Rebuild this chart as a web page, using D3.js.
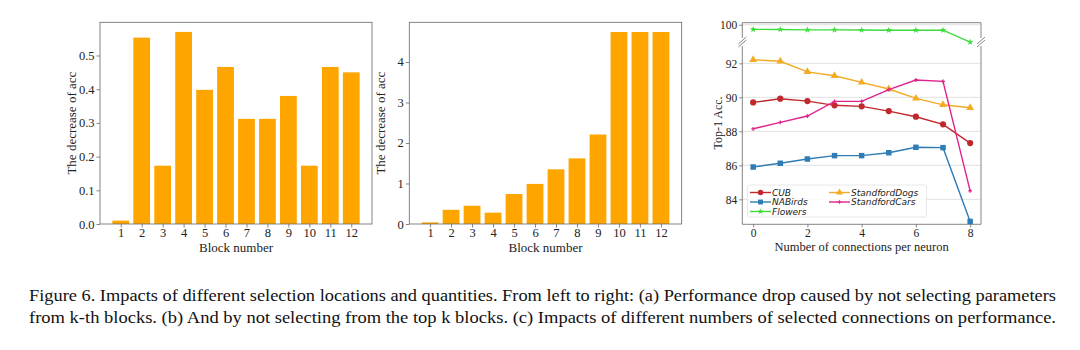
<!DOCTYPE html>
<html><head><meta charset="utf-8">
<script src="https://cdn.jsdelivr.net/npm/d3@7"></script>
<style>
html,body{margin:0;padding:0;background:#fff;}
svg{display:block;}
</style></head>
<body>
<svg id="chart" width="1080" height="350"></svg>
<script>
// ---------- DATA ----------
const blocks = [1,2,3,4,5,6,7,8,9,10,11,12];
const dropKth = [0.01,0.553,0.173,0.57,0.398,0.466,0.312,0.312,0.38,0.173,0.466,0.45];
const dropTopK = [0.04,0.35,0.45,0.28,0.74,0.99,1.35,1.62,2.21,4.74,4.74,4.74];
const ticksA = [0.0,0.1,0.2,0.3,0.4,0.5];
const ticksB = [0,1,2,3,4];

const connections = [0,1,2,3,4,5,6,7,8];
const cub      = [89.70,89.92,89.78,89.53,89.47,89.19,88.86,88.41,87.31];
const nabirds  = [85.90,86.12,86.37,86.57,86.57,86.74,87.06,87.04,82.70];
const flowers  = [99.73,99.72,99.70,99.70,99.69,99.68,99.68,99.68,98.98];
const dogs     = [92.21,92.12,91.50,91.27,90.88,90.49,89.94,89.56,89.39];
const cars     = [88.15,88.53,88.90,89.76,89.76,90.45,91.02,90.94,84.50];
const ticksCx = [0,2,4,6,8];
const ticksCLow = [84,86,88,90,92];
const ticksCTop = [100];

const seriesNames = ["CUB","NABirds","Flowers","StandfordDogs","StandfordCars"];
const seriesColors = ["#c0282e","#2f7bb5","#3cdc3c","#f2ab22","#e0228c"];
const seriesMarkers = ["circle","square","star","triangle","plus"];

const caption1 = "Figure 6. Impacts of different selection locations and quantities. From left to right: (a) Performance drop caused by not selecting parameters";
const caption2 = "from k-th blocks. (b) And by not selecting from the top k blocks. (c) Impacts of different numbers of selected connections on performance.";

// ---------- DRAW ----------
const svg = d3.select("#chart");
const serif = "Liberation Serif, Times New Roman, serif";
const spineColor = "#666";
const textColor = "#222";

function barChart(x0, x1, y0, y1, values, yMax, yTicks, fmt) {
  const x = d3.scaleLinear().domain([0.01, 12.99]).range([x0, x1]);
  const y = d3.scaleLinear().domain([0, yMax]).range([y1, y0]);
  const g = svg.append("g");
  g.selectAll("rect").data(values).join("rect")
    .attr("x", (d,i) => x(blocks[i] - 0.4))
    .attr("width", (d,i) => x(blocks[i] + 0.4) - x(blocks[i] - 0.4))
    .attr("y", d => y(d))
    .attr("height", d => y(0) - y(d))
    .attr("fill", "#FFA500");
  const ax = g.append("g").attr("transform", `translate(0,${y1})`)
    .call(d3.axisBottom(x).tickValues(blocks).tickSize(3.5).tickSizeOuter(0).tickPadding(1));
  const ay = g.append("g").attr("transform", `translate(${x0},0)`)
    .call(d3.axisLeft(y).tickValues(yTicks).tickFormat(fmt).tickSize(3.5).tickSizeOuter(0).tickPadding(2));
  [ax, ay].forEach(a => {
    a.select(".domain").remove();
    a.selectAll("line").attr("stroke", spineColor).attr("stroke-width", 0.8);
    a.selectAll("text").attr("font-family", serif).attr("font-size", 12.5).attr("fill", textColor);
  });
  g.append("rect").attr("x", x0).attr("y", y0).attr("width", x1 - x0).attr("height", y1 - y0)
    .attr("fill", "none").attr("stroke", spineColor).attr("stroke-width", 0.8);
  g.append("text").attr("x", (x0 + x1) / 2).attr("y", 252).attr("text-anchor", "middle")
    .attr("font-family", serif).attr("font-size", 13).attr("fill", textColor).text("Block number");
  g.append("text").attr("transform", `translate(${x0 - 24},${(y0 + y1) / 2}) rotate(-90)`)
    .attr("text-anchor", "middle").attr("font-family", serif).attr("font-size", 13)
    .attr("fill", textColor).text("The decrease of acc");
}

barChart(100, 372, 22.3, 224, dropKth, 0.5985, ticksA, d3.format(".1f"));
barChart(409.3, 681.7, 22.3, 224, dropTopK, 4.98, ticksB, d3.format("d"));

// ---------- Chart C (broken axis) ----------
const cx0 = 742.3, cx1 = 981;
const topY0 = 22.7, topY1 = 38;
const botY0 = 46, botY1 = 224.3;
const xC = d3.scaleLinear().domain([-0.4, 8.4]).range([cx0, cx1]);
const yLow = d3.scaleLinear().domain([82.53, 93.02]).range([botY1, botY0]);
const yTop = d3.scaleLinear().domain([99.22, 100.12]).range([topY1, topY0]);

const gC = svg.append("g");
// gridlines
gC.selectAll("line.gl").data(ticksCLow).join("line").attr("class","gl")
  .attr("x1", cx0).attr("x2", cx1).attr("y1", d => yLow(d)).attr("y2", d => yLow(d))
  .attr("stroke", "#d8d8d8").attr("stroke-width", 0.8);
gC.selectAll("line.gt").data(ticksCTop).join("line").attr("class","gt")
  .attr("x1", cx0).attr("x2", cx1).attr("y1", d => yTop(d)).attr("y2", d => yTop(d))
  .attr("stroke", "#d8d8d8").attr("stroke-width", 0.8);

// axes
const axC = gC.append("g").attr("transform", `translate(0,${botY1})`)
  .call(d3.axisBottom(xC).tickValues(ticksCx).tickSize(3).tickSizeOuter(0).tickPadding(2));
const ayLow = gC.append("g").attr("transform", `translate(${cx0},0)`)
  .call(d3.axisLeft(yLow).tickValues(ticksCLow).tickFormat(d3.format("d")).tickSize(3).tickSizeOuter(0).tickPadding(2));
const ayTop = gC.append("g").attr("transform", `translate(${cx0},0)`)
  .call(d3.axisLeft(yTop).tickValues(ticksCTop).tickFormat(d3.format("d")).tickSize(3).tickSizeOuter(0).tickPadding(2));
[axC, ayLow, ayTop].forEach(a => {
  a.select(".domain").remove();
  a.selectAll("line").attr("stroke", spineColor).attr("stroke-width", 0.8);
  a.selectAll("text").attr("font-family", serif).attr("font-size", 11.5).attr("fill", textColor);
});
// spines: top subplot (no bottom), bottom subplot (no top)
gC.append("path").attr("d", `M${cx0},${topY1}V${topY0}H${cx1}V${topY1}`)
  .attr("fill","none").attr("stroke", spineColor).attr("stroke-width", 0.8);
gC.append("path").attr("d", `M${cx0},${botY0}V${botY1}H${cx1}V${botY0}`)
  .attr("fill","none").attr("stroke", spineColor).attr("stroke-width", 0.8);
// break marks
[cx0, cx1].forEach(bx => {
  [topY1 + 2.5, botY0 - 2.5].forEach(by => {
    gC.append("line").attr("x1", bx - 4).attr("y1", by + 3.5).attr("x2", bx + 4).attr("y2", by - 3.5)
      .attr("stroke", spineColor).attr("stroke-width", 0.8);
  });
});

function markerPath(type, size) {
  const sym = {circle: d3.symbolCircle, square: d3.symbolSquare, triangle: d3.symbolTriangle,
               star: d3.symbolStar, plus: d3.symbolCross}[type];
  return d3.symbol().type(sym).size(size)();
}
const markerSizes = {circle: 30, square: 30, triangle: 26, star: 14, plus: 8};

const allSeries = [cub, nabirds, flowers, dogs, cars];
const order = [1, 0, 3, 4, 2];
order.forEach(si => {
  const vals = allSeries[si];
  const ys = si === 2 ? yTop : yLow;
  const col = seriesColors[si];
  const line = d3.line().x((d,i) => xC(connections[i])).y(d => ys(d));
  gC.append("path").datum(vals).attr("d", line).attr("fill","none")
    .attr("stroke", col).attr("stroke-width", 1.4);
  gC.selectAll(null).data(vals).join("path")
    .attr("transform", (d,i) => `translate(${xC(connections[i])},${ys(d)})`)
    .attr("d", markerPath(seriesMarkers[si], markerSizes[seriesMarkers[si]]))
    .attr("fill", col);
});

// legend
const lg = gC.append("g");
lg.append("rect").attr("x", 747.5).attr("y", 185).attr("width", 179).attr("height", 32)
  .attr("rx", 2).attr("fill", "rgba(255,255,255,0.8)").attr("stroke", "#e2e2e2").attr("stroke-width", 0.8);
const legPos = [[750, 192.5],[750, 202],[750, 211.5],[829, 192.5],[829, 202]];
seriesNames.forEach((name, i) => {
  const [lx, ly] = legPos[i];
  lg.append("line").attr("x1", lx).attr("x2", lx + 21).attr("y1", ly).attr("y2", ly)
    .attr("stroke", seriesColors[i]).attr("stroke-width", 1.4);
  lg.append("path").attr("transform", `translate(${lx + 10.5},${ly})`)
    .attr("d", markerPath(seriesMarkers[i], markerSizes[seriesMarkers[i]] * 0.8)).attr("fill", seriesColors[i]);
  lg.append("text").attr("x", lx + 22).attr("y", ly + 3.3)
    .attr("font-family", "DejaVu Sans, sans-serif").attr("font-style", "italic")
    .attr("font-size", 9).attr("fill", textColor).text(name);
});

gC.append("text").attr("x", (cx0 + cx1) / 2).attr("y", 251).attr("text-anchor", "middle")
  .attr("font-family", serif).attr("font-size", 12.5).attr("fill", textColor)
  .text("Number of connections per neuron");
gC.append("text").attr("transform", `translate(718,123) rotate(-90)`).attr("text-anchor", "middle")
  .attr("dy", "0.35em").attr("font-family", serif).attr("font-size", 12)
  .attr("fill", textColor).text("Top-1 Acc.");

// caption
[[caption1, 301], [caption2, 323]].forEach(([t, yy]) => {
  svg.append("text").attr("x", 29).attr("y", yy)
    .attr("font-family", serif).attr("font-size", 16).attr("fill", "#111")
    .attr("textLength", 1027).attr("lengthAdjust", "spacingAndGlyphs").text(t);
});
</script>
</body></html>
